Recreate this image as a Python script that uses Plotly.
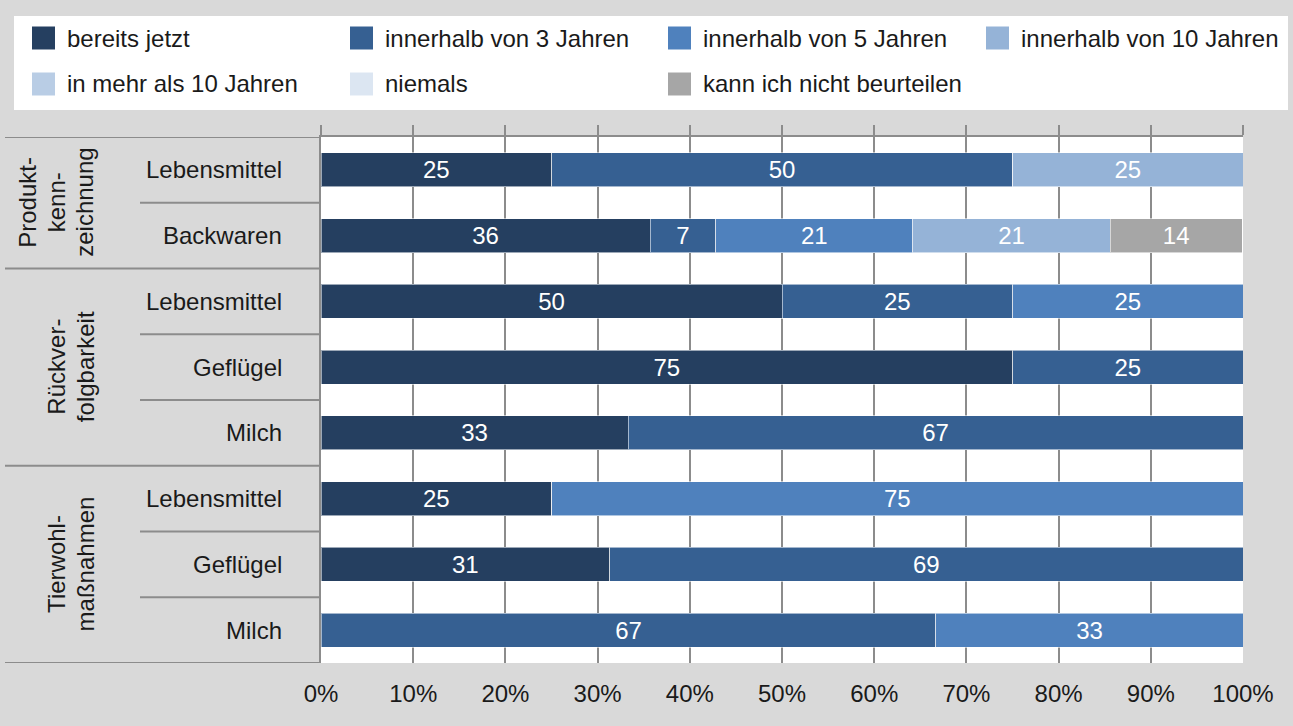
import plotly.graph_objects as go

# --- data -------------------------------------------------------------------
GROUPS = ['Produkt-<br>kenn-<br>zeichnung', 'Rückver-<br>folgbarkeit', 'Tierwohl-<br>maßnahmen']
ROWS = ['Lebensmittel', 'Backwaren',
        'Lebensmittel', 'Geflügel', 'Milch',
        'Lebensmittel', 'Geflügel', 'Milch']
ROW_GROUP = [0, 0, 1, 1, 1, 2, 2, 2]

SERIES = ['bereits jetzt', 'innerhalb von 3 Jahren', 'innerhalb von 5 Jahren',
          'innerhalb von 10 Jahren', 'in mehr als 10 Jahren', 'niemals',
          'kann ich nicht beurteilen']

bereits_jetzt  = [25, 35.7, 50, 75, 33.3, 25, 31.3, 0]
innerhalb_3    = [50, 7.1, 25, 25, 66.7, 0, 68.7, 66.7]
innerhalb_5    = [0, 21.4, 25, 0, 0, 75, 0, 33.3]
innerhalb_10   = [25, 21.4, 0, 0, 0, 0, 0, 0]
mehr_als_10    = [0, 0, 0, 0, 0, 0, 0, 0]
niemals        = [0, 0, 0, 0, 0, 0, 0, 0]
nicht_beurteil = [0, 14.3, 0, 0, 0, 0, 0, 0]

VALUES = [bereits_jetzt, innerhalb_3, innerhalb_5, innerhalb_10,
          mehr_als_10, niemals, nicht_beurteil]

X_TICKS = [0, 10, 20, 30, 40, 50, 60, 70, 80, 90, 100]
X_LABELS = [f'{v}%' for v in X_TICKS]

# --- style ------------------------------------------------------------------
COLORS = ['#253f60', '#366092', '#4f81bd', '#95b3d7', '#b9cde5', '#dce6f2', '#a6a6a6']
FONT = 'Liberation Sans, Arial, sans-serif'
TXT = '#1a1a1a'
LINE = '#8c8c8c'
BG = '#d9d9d9'
FS = 24

W, H = 1293, 726
L, R, T, B = 321, 1243, 137, 663


def px(x):
    return (x - L) / (R - L)


def py(y):
    return (B - y) / (B - T)


fig = go.Figure()

ypos = list(range(len(ROWS)))
for name, vals, color in zip(SERIES, VALUES, COLORS):
    fig.add_trace(go.Bar(
        name=name,
        y=ypos,
        x=vals,
        orientation='h',
        marker=dict(color=color, line=dict(color='rgba(255,255,255,0.55)', width=1)),
        text=[f'{v:.0f}' if v else '' for v in vals],
        textposition='inside',
        insidetextanchor='middle',
        textfont=dict(color='white', size=FS, family=FONT),
        constraintext='none',
        showlegend=False,
        hoverinfo='skip',
    ))

# empty trace so the top axis (ticks above the plot) is drawn
fig.add_trace(go.Scatter(x=[], y=[], xaxis='x2', showlegend=False))

shapes = []
annotations = []

# legend box
shapes.append(dict(type='rect', xref='paper', yref='paper',
                   x0=px(14), x1=px(1288), y0=py(110), y1=py(16),
                   fillcolor='white', line=dict(width=0), layer='below'))
for i, (name, color) in enumerate(zip(SERIES, COLORS)):
    col, row = i % 4, i // 4
    sx = 32 + 318 * col
    sy = 38 + 46 * row
    shapes.append(dict(type='rect', xref='paper', yref='paper',
                       x0=px(sx), x1=px(sx + 23), y0=py(sy + 11.5), y1=py(sy - 11.5),
                       fillcolor=color, line=dict(width=0)))
    annotations.append(dict(xref='paper', yref='paper', x=px(sx + 33), y=py(sy),
                            xanchor='left', yanchor='middle', showarrow=False,
                            text=name, font=dict(size=FS, color=TXT, family=FONT)))

# row labels
for i, lab in enumerate(ROWS):
    annotations.append(dict(xref='paper', yref='y', x=px(284), y=i,
                            xanchor='right', yanchor='middle', showarrow=False,
                            text=lab, font=dict(size=FS, color=TXT, family=FONT)))

# group labels (rotated, one annotation per line) and separators
shapes.append(dict(type='line', xref='paper', yref='y', x0=px(5), x1=0,
                   y0=-0.5, y1=-0.5, line=dict(color=LINE, width=2)))
for g, glab in enumerate(GROUPS):
    idx = [i for i, rg in enumerate(ROW_GROUP) if rg == g]
    lines = glab.split('<br>')
    for k, part in enumerate(lines):
        lx = 85 - 28.5 * (len(lines) - 1 - k)
        annotations.append(dict(xref='paper', yref='y', x=px(lx), y=(idx[0] + idx[-1]) / 2,
                                xanchor='center', yanchor='middle', showarrow=False,
                                textangle=-90, text=part,
                                font=dict(size=FS, color=TXT, family=FONT)))
    for i in idx[:-1]:
        shapes.append(dict(type='line', xref='paper', yref='y', x0=px(140), x1=0,
                           y0=i + 0.5, y1=i + 0.5, line=dict(color=LINE, width=2)))
    shapes.append(dict(type='line', xref='paper', yref='y', x0=px(5), x1=0,
                       y0=idx[-1] + 0.5, y1=idx[-1] + 0.5, line=dict(color=LINE, width=2)))

fig.update_layout(
    width=W, height=H, autosize=False,
    barmode='stack',
    bargap=0.483,
    paper_bgcolor=BG,
    plot_bgcolor='white',
    margin=dict(l=L, r=W - R, t=T, b=H - B, pad=0),
    font=dict(family=FONT, size=FS, color=TXT),
    xaxis=dict(range=[0, 100], tickvals=X_TICKS, ticktext=X_LABELS,
               showgrid=True, gridcolor=LINE, gridwidth=1.5,
               zeroline=False, showline=False, ticks='',
               ticklabelstandoff=14,
               tickfont=dict(size=FS, color=TXT, family=FONT), fixedrange=True),
    xaxis2=dict(range=[0, 100], tickvals=X_TICKS, overlaying='x', side='top',
                anchor='y', showticklabels=False, showgrid=False, zeroline=False,
                ticks='outside', ticklen=10, tickwidth=1.5, tickcolor=LINE,
                showline=True, linecolor=LINE, linewidth=2, fixedrange=True),
    yaxis=dict(range=[len(ROWS) - 0.5, -0.5], showticklabels=False, showgrid=False,
               zeroline=False, showline=True, linecolor=LINE, linewidth=2,
               ticks='', fixedrange=True),
    shapes=shapes,
    annotations=annotations,
    showlegend=False,
)

fig.write_html('out.html', config={'displayModeBar': False},
               post_script="document.body.style.margin='0';")
